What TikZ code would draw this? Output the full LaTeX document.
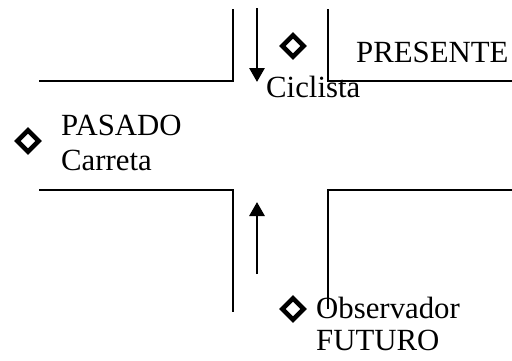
\documentclass[tikz,border=0pt]{standalone}
\usepackage{fontspec}
\setmainfont{Liberation Serif}
\usetikzlibrary{arrows.meta,shapes.geometric}
\begin{document}
\begin{tikzpicture}[x=1pt,y=-1pt,
  street/.style={line width=1.5pt, line cap=rect},
  mover/.style={line width=2.8pt, -{Triangle[width=15pt,length=14pt]}},
  bullet/.style={diamond, draw, line width=4.6pt, minimum size=23pt, inner sep=0pt},
  lbl/.style={anchor=base west, inner sep=0pt, font=\fontsize{30.8}{36}\selectfont}]
\useasboundingbox (0,0) rectangle (512,360);
% streets
\draw[street] (40,81) -- (233,81) -- (233,10);
\draw[street] (328,10) -- (328,81) -- (512,81);
\draw[street] (40,190) -- (233,190) -- (233,311);
\draw[street] (512,190) -- (328,190) -- (328,308);
% movement arrows
\coordinate (cTop) at (257,8);
\coordinate (cTopEnd) at (257,82);
\coordinate (cBot) at (257,274);
\coordinate (cBotEnd) at (257,202);
\draw[mover] (cTop) -- (cTopEnd);
\draw[mover] (cBot) -- (cBotEnd);
% bullets
\node[bullet] (dTop) at (293,46) {};
\node[bullet] (dLeft) at (28,141) {};
\node[bullet] (dBot) at (293,309) {};
% labels
\node[lbl] (presente) at (356,62) {PRESENTE};
\node[lbl] (ciclista) at (266,97) {Ciclista};
\node[lbl] (pasado) at (61,135) {PASADO};
\node[lbl] (carreta) at (61,170) {Carreta};
\node[lbl] (observador) at (316,318) {Observador};
\node[lbl] (futuro) at (316,350) {FUTURO};
\end{tikzpicture}
\end{document}
